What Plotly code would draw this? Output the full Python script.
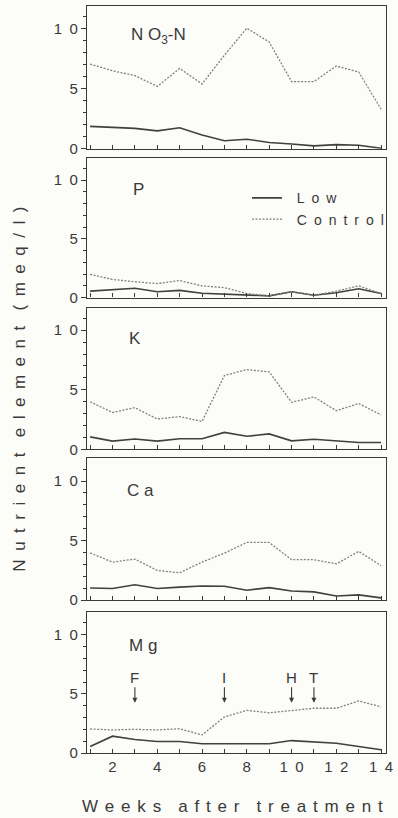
import plotly.graph_objects as go
from plotly.subplots import make_subplots

weeks = list(range(1, 15))

EN = "\u2002"
TH = "\u2009"

panel_names = ["N O<sub>3</sub>-N", "P", "K", "C a", "M g"]

no3_low = [1.87, 1.8, 1.7, 1.5, 1.75, 1.15, 0.67, 0.8, 0.53, 0.4, 0.25, 0.35, 0.3, 0.05]
no3_control = [7.06, 6.5, 6.1, 5.2, 6.7, 5.4, 7.8, 10.05, 8.9, 5.6, 5.6, 6.9, 6.4, 3.3]

p_low = [0.55, 0.65, 0.8, 0.5, 0.62, 0.37, 0.3, 0.2, 0.15, 0.5, 0.2, 0.42, 0.75, 0.35]
p_control = [1.97, 1.55, 1.35, 1.2, 1.45, 1.0, 0.85, 0.35, 0.15, 0.5, 0.2, 0.55, 1.0, 0.35]

k_low = [1.05, 0.7, 0.88, 0.7, 0.9, 0.9, 1.43, 1.1, 1.3, 0.72, 0.85, 0.72, 0.58, 0.58]
k_control = [4.0, 3.1, 3.5, 2.55, 2.75, 2.35, 6.2, 6.7, 6.5, 3.95, 4.4, 3.25, 3.85, 2.9]

ca_low = [1.03, 0.98, 1.3, 0.98, 1.1, 1.2, 1.17, 0.84, 1.06, 0.78, 0.7, 0.36, 0.45, 0.2]
ca_control = [3.97, 3.2, 3.45, 2.5, 2.3, 3.2, 3.95, 4.85, 4.85, 3.4, 3.4, 3.05, 4.1, 2.9]

mg_low = [0.55, 1.42, 1.14, 0.97, 0.97, 0.78, 0.78, 0.78, 0.78, 1.05, 0.97, 0.83, 0.55, 0.28]
mg_control = [2.03, 1.95, 2.0, 1.95, 2.05, 1.53, 3.05, 3.6, 3.4, 3.6, 3.78, 3.78, 4.4, 3.9]

low_series = [no3_low, p_low, k_low, ca_low, mg_low]
control_series = [no3_control, p_control, k_control, ca_control, mg_control]
label_x = [2.72, 2.82, 2.65, 2.58, 2.65]
label_y = [9.4, 9.2, 9.3, 9.2, 9.1]

event_labels = ["F", "I", "H", "T"]
event_weeks = [3, 7, 10, 11]
event_label_y = 6.4
event_head_y = 4.25

y_tickvals = [0, 5, 10]
y_ticktext = ["0", "5", "1" + EN + "0"]
x_tickvals = weeks
x_ticktext = ["", "2", "", "4", "", "6", "", "8", "",
              "1" + EN + "0", "", "1" + EN + "2", "", "1" + EN + "4"]


def spaced(text, gap, word_gap):
    return word_gap.join(gap.join(list(w)) for w in text.split(" "))


FONT = "Liberation Sans, Arial, Helvetica, sans-serif"
INK = "#3a3a3a"
BG = "#fcfcf9"

fig = make_subplots(rows=5, cols=1, shared_xaxes=False, vertical_spacing=0.01)

for i in range(5):
    r = i + 1
    fig.add_trace(go.Scatter(x=weeks, y=low_series[i], mode="lines",
                             name=EN + TH + spaced("Low", EN, EN),
                             line=dict(color="#404040", width=1.6),
                             showlegend=(i == 0), legendgroup="low"), row=r, col=1)
    fig.add_trace(go.Scatter(x=weeks, y=control_series[i], mode="lines",
                             name=EN + TH + spaced("Control", EN, EN),
                             line=dict(color="#808080", width=1.3, dash="2px,1.5px"),
                             showlegend=(i == 0), legendgroup="control"), row=r, col=1)

domains = [(0.8088, 1.0), (0.6096, 0.7968), (0.4064, 0.5963), (0.2045, 0.3944), (0.0, 0.1885)]

for i in range(5):
    r = i + 1
    fig.update_yaxes(domain=list(domains[i]), range=[0, 11.9],
                     tickvals=y_tickvals, ticktext=y_ticktext,
                     ticks="outside", ticklen=5, tickwidth=1, tickcolor=INK,
                     minor=dict(dtick=1, tick0=0, ticks="outside", ticklen=3, tickcolor=INK),
                     showgrid=False, zeroline=False,
                     showline=True, mirror=True, linecolor=INK, linewidth=1.3,
                     tickfont=dict(family=FONT, size=15, color=INK),
                     row=r, col=1)
    fig.update_xaxes(range=[0.86, 14.22], tickvals=x_tickvals,
                     ticktext=x_ticktext, showticklabels=(r == 5),
                     ticks="inside", ticklen=4, tickwidth=1, tickcolor=INK,
                     showgrid=False, zeroline=False,
                     showline=True, mirror=True, linecolor=INK, linewidth=1.3,
                     tickfont=dict(family=FONT, size=15, color=INK),
                     row=r, col=1)
    xref = "x" if r == 1 else f"x{r}"
    yref = "y" if r == 1 else f"y{r}"
    fig.add_annotation(x=label_x[i], y=label_y[i], xref=xref, yref=yref,
                       text=panel_names[i], showarrow=False, xanchor="left", yanchor="middle",
                       font=dict(family=FONT, size=17, color=INK))

for lab, wk in zip(event_labels, event_weeks):
    fig.add_annotation(x=wk, y=event_head_y, xref="x5", yref="y5",
                       ax=wk, ay=event_label_y, axref="x5", ayref="y5",
                       text=lab, showarrow=True, arrowhead=2, arrowsize=0.9,
                       arrowwidth=1.1, arrowcolor=INK,
                       font=dict(family=FONT, size=15, color=INK))

fig.add_annotation(x=-0.227, y=0.4866, xref="paper", yref="paper",
                   xanchor="center", yanchor="middle",
                   text=spaced("Nutrient element (meq/l)", EN, EN + TH + TH),
                   textangle=-90, showarrow=False,
                   font=dict(family=FONT, size=17, color=INK))
fig.add_annotation(x=0.488, y=-0.0722, xref="paper", yref="paper",
                   xanchor="center", yanchor="middle",
                   text=spaced("Weeks after treatment", TH + TH, EN + EN),
                   showarrow=False,
                   font=dict(family=FONT, size=17, color=INK))

fig.update_layout(
    width=398, height=818,
    margin=dict(l=87, r=8, t=5, b=65),
    paper_bgcolor=BG, plot_bgcolor=BG,
    font=dict(family=FONT, color=INK),
    legend=dict(x=0.535, y=0.764, xanchor="left", yanchor="top",
                bgcolor="rgba(0,0,0,0)", borderwidth=0,
                font=dict(family=FONT, size=14, color=INK),
                tracegroupgap=0, itemwidth=30),
)

fig.write_html("out.html", config={"displayModeBar": False},
               post_script="document.body.style.margin='0';document.body.style.overflow='hidden';")
